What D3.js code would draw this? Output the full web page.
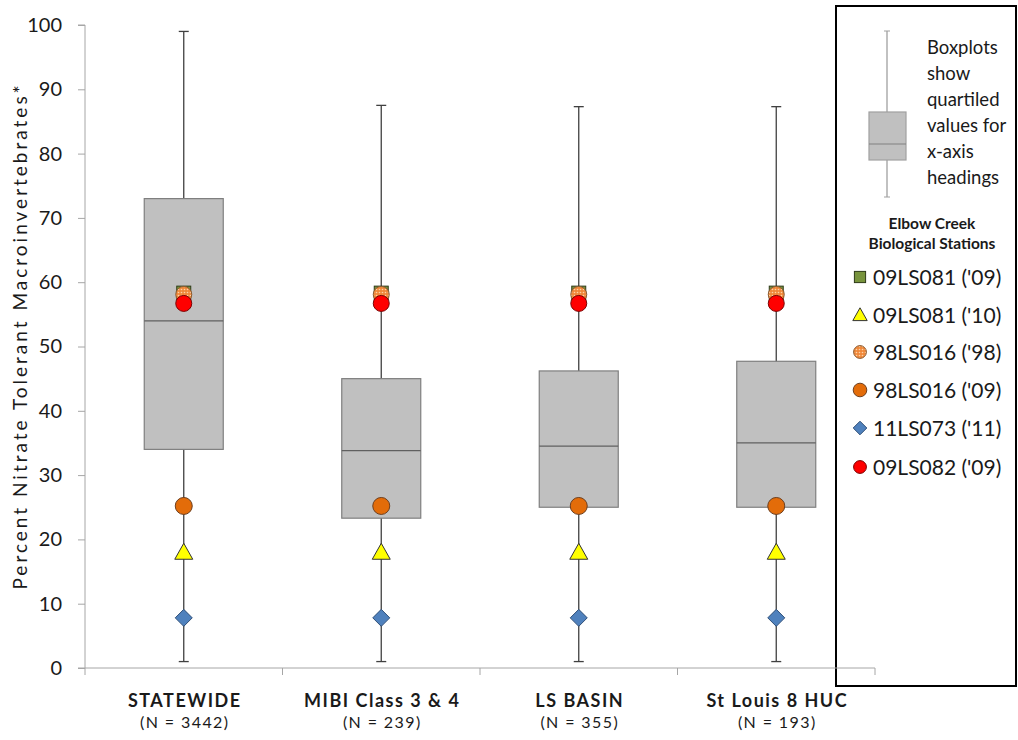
<!DOCTYPE html>
<html><head><meta charset="utf-8">
<script src="https://cdn.jsdelivr.net/npm/d3@7"></script>
<style>body{margin:0;background:#fff;}svg{display:block;}text{font-family:Lato,"Open Sans",sans-serif;fill:#1a1a1a;}</style>
</head><body>
<svg id="c" width="1018" height="740"></svg>
<script>
const categories = ["STATEWIDE","MIBI Class 3 & 4","LS BASIN","St Louis 8 HUC"];
const nLabels = ["(N = 3442)","(N = 239)","(N = 355)","(N = 193)"];
const whiskerLow = [1,1,1,1];
const q1 = [34,23.3,25,25];
const median = [54,33.8,34.5,35];
const q3 = [73,45,46.2,47.7];
const whiskerHigh = [99,87.5,87.3,87.3];
const stationNames = ["09LS081 ('09)","09LS081 ('10)","98LS016 ('98)","98LS016 ('09)","11LS073 ('11)","09LS082 ('09)"];
const stationValues = [58.3,18,58.1,25.2,7.8,56.7];
const yTicks = [0,10,20,30,40,50,60,70,80,90,100];

const svg = d3.select("#c");
const defs = svg.append("defs");
const pat = defs.append("pattern").attr("id","dots").attr("patternUnits","userSpaceOnUse").attr("width",3).attr("height",3);
pat.append("rect").attr("width",3).attr("height",3).attr("fill","#f0883a");
pat.append("circle").attr("cx",1.5).attr("cy",1.5).attr("r",0.8).attr("fill","#fbd3a8");

const x = d3.scaleBand().domain(categories).range([85,875]);
const y = d3.scaleLinear().domain([0,100]).range([668,25]);

function marker(sel, k, cx, cy, s){
  s = s || 1;
  if(k===0) sel.append("rect").attr("x",cx-7*s).attr("y",cy-7*s).attr("width",14*s).attr("height",14*s).attr("fill","#77933c").attr("stroke","#2e3a18").attr("stroke-width",1);
  else if(k===1) sel.append("path").attr("d",`M${cx},${cy-9*s}L${cx+9*s},${cy+7*s}L${cx-9*s},${cy+7*s}Z`).attr("fill","#ffff00").attr("stroke","#333").attr("stroke-width",1);
  else if(k===2) sel.append("circle").attr("cx",cx).attr("cy",cy).attr("r",8*s).attr("fill","url(#dots)").attr("stroke","#8a5a30").attr("stroke-width",1);
  else if(k===3) sel.append("circle").attr("cx",cx).attr("cy",cy).attr("r",8.5*s).attr("fill","#e36c09").attr("stroke","#6e4020").attr("stroke-width",1);
  else if(k===4) sel.append("path").attr("d",`M${cx},${cy-8.5*s}L${cx+8.5*s},${cy}L${cx},${cy+8.5*s}L${cx-8.5*s},${cy}Z`).attr("fill","#4f81bd").attr("stroke","#2f4f78").attr("stroke-width",1);
  else sel.append("circle").attr("cx",cx).attr("cy",cy).attr("r",8*s).attr("fill","#ff0000").attr("stroke","#7a0000").attr("stroke-width",1);
}

// legend (drawn first)
const L = svg.append("g");
L.append("rect").attr("x",836).attr("y",6).attr("width",180).attr("height",680).attr("fill","#fff").attr("stroke","#000").attr("stroke-width",2);
const lx = 887;
L.append("line").attr("x1",lx).attr("x2",lx).attr("y1",31).attr("y2",197).attr("stroke","#a0a0a0").attr("stroke-width",1.3);
[31,197].forEach(v=>L.append("line").attr("x1",lx-3).attr("x2",lx+3).attr("y1",v).attr("y2",v).attr("stroke","#a0a0a0"));
L.append("rect").attr("x",869).attr("y",112).attr("width",37).attr("height",48).attr("fill","#c0c0c0").attr("stroke","#a0a0a0").attr("stroke-width",1.2);
L.append("line").attr("x1",869).attr("x2",906).attr("y1",144).attr("y2",144).attr("stroke","#808080").attr("stroke-width",1.2);
["Boxplots","show","quartiled","values for","x-axis","headings"].forEach((t,i)=>{
  L.append("text").attr("x",927).attr("y",54+i*26).style("font-size","18.5px").text(t);
});
L.append("text").attr("x",932).attr("y",229).attr("text-anchor","middle").style("font-size","15.5px").style("font-weight","bold").text("Elbow Creek");
L.append("text").attr("x",932).attr("y",249).attr("text-anchor","middle").style("font-size","15.5px").style("font-weight","bold").text("Biological Stations");
const ly = [277,315,352,390,428,467];
stationNames.forEach((s,k)=>{
  marker(L,k,860,ly[k],0.8);
  L.append("text").attr("x",873).attr("y",ly[k]+8).style("font-size","21px").text(s);
});

// y axis
const ya = svg.append("g").attr("transform","translate(85,0)").call(d3.axisLeft(y).tickValues(yTicks).tickSize(7).tickPadding(16));
ya.select(".domain").attr("stroke","#a6a6a6").attr("d","M-7,"+y(100)+"H0V"+y(0));
ya.selectAll(".tick line").attr("stroke","#a6a6a6");
ya.selectAll("text").style("font-size","20px").attr("fill","#1a1a1a").style("font-family","Lato,'Open Sans',sans-serif");

// x axis
const xa = svg.append("g").attr("transform","translate(0,"+y(0)+")");
xa.append("line").attr("x1",x.range()[0]-7).attr("x2",x.range()[1]).attr("stroke","#a6a6a6");
const bounds = categories.map(c=>x(c)).concat([x.range()[1]]);
xa.selectAll(".xt").data(bounds).join("line").attr("x1",d=>d).attr("x2",d=>d).attr("y1",0).attr("y2",7).attr("stroke","#a6a6a6");

const bw = 79;
const g = svg.append("g");
categories.forEach((c,i)=>{
  const cx = x(c)+x.bandwidth()/2;
  g.append("line").attr("x1",cx).attr("x2",cx).attr("y1",y(whiskerHigh[i])).attr("y2",y(whiskerLow[i])).attr("stroke","#404040").attr("stroke-width",1.3);
  [whiskerHigh[i],whiskerLow[i]].forEach(v=>g.append("line").attr("x1",cx-5).attr("x2",cx+5).attr("y1",y(v)).attr("y2",y(v)).attr("stroke","#404040").attr("stroke-width",1.3));
  g.append("rect").attr("x",cx-bw/2).attr("y",y(q3[i])).attr("width",bw).attr("height",y(q1[i])-y(q3[i])).attr("fill","#c0c0c0").attr("stroke","#7f7f7f").attr("stroke-width",1.2);
  g.append("line").attr("x1",cx-bw/2).attr("x2",cx+bw/2).attr("y1",y(median[i])).attr("y2",y(median[i])).attr("stroke","#606060").attr("stroke-width",1.2);
  svg.append("text").attr("x",cx+1).attr("y",707).attr("text-anchor","middle").style("font-size","18px").style("letter-spacing","1.5px").style("font-weight","bold").text(c);
  svg.append("text").attr("x",cx+1).attr("y",728).attr("text-anchor","middle").style("font-size","16px").style("letter-spacing","1.4px").text(nLabels[i]);
});

const mg = svg.append("g");
categories.forEach(c=>{
  const cx = x(c)+x.bandwidth()/2;
  stationValues.forEach((v,k)=>marker(mg,k,cx,y(v)));
});

// y label
svg.append("text").attr("transform","translate(27,336) rotate(-90)").attr("text-anchor","middle").style("font-size","19px").style("letter-spacing","3px").text("Percent Nitrate Tolerant Macroinvertebrates*");
</script>
</body></html>
